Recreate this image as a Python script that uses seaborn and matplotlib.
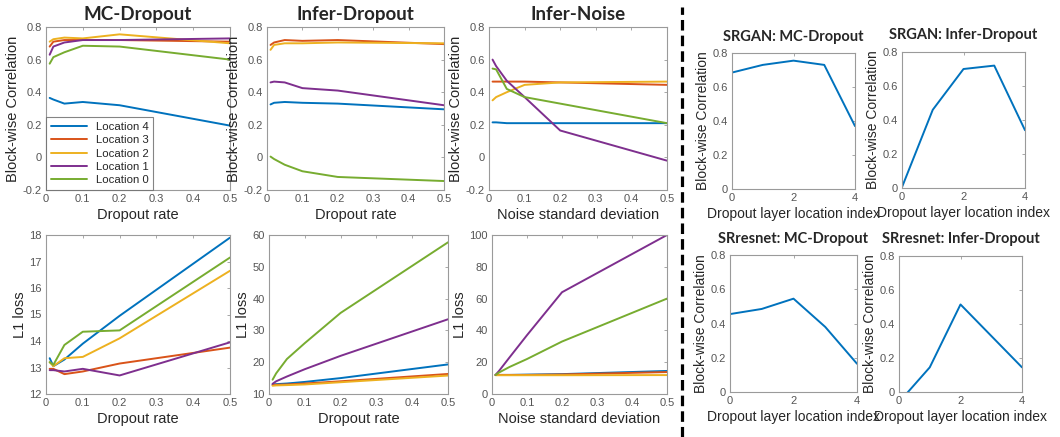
# Block-wise correlation and L1 loss for the dropout / noise experiments
import pandas as pd
import matplotlib.pyplot as plt
import seaborn as sns
from matplotlib.lines import Line2D
from matplotlib.ticker import FuncFormatter

# x values for the left block of plots
rates = [0.01, 0.02, 0.05, 0.1, 0.2, 0.5]
locations = ["Location 4", "Location 3", "Location 2", "Location 1", "Location 0"]

# Block-wise correlation, one list per location (4, 3, 2, 1, 0)
mc_corr = [
    [0.365, 0.355, 0.33, 0.34, 0.32, 0.195],
    [0.68, 0.71, 0.72, 0.72, 0.72, 0.71],
    [0.71, 0.725, 0.735, 0.73, 0.755, 0.70],
    [0.63, 0.68, 0.705, 0.72, 0.72, 0.73],
    [0.575, 0.615, 0.645, 0.685, 0.68, 0.60],
]
infer_corr = [
    [0.325, 0.335, 0.34, 0.335, 0.33, 0.295],
    [0.69, 0.705, 0.72, 0.715, 0.72, 0.695],
    [0.66, 0.69, 0.70, 0.70, 0.705, 0.70],
    [0.46, 0.465, 0.46, 0.425, 0.41, 0.32],
    [0.005, -0.01, -0.045, -0.085, -0.12, -0.145],
]
noise_corr = [
    [0.215, 0.215, 0.21, 0.21, 0.21, 0.21],
    [0.465, 0.465, 0.465, 0.465, 0.46, 0.445],
    [0.35, 0.37, 0.40, 0.445, 0.46, 0.465],
    [0.60, 0.56, 0.47, 0.37, 0.165, -0.02],
    [0.545, 0.54, 0.42, 0.37, 0.33, 0.21],
]

# L1 loss, same ordering
mc_l1 = [
    [13.35, 13.05, 13.3, 13.9, 14.95, 17.9],
    [12.95, 12.95, 12.75, 12.85, 13.15, 13.75],
    [13.2, 13.05, 13.35, 13.4, 14.1, 16.65],
    [12.9, 12.9, 12.85, 12.95, 12.7, 13.95],
    [13.2, 13.1, 13.85, 14.35, 14.4, 17.15],
]
infer_l1 = [
    [13.0, 13.1, 13.3, 13.8, 15.0, 19.3],
    [12.8, 12.9, 13.0, 13.3, 14.0, 16.3],
    [12.6, 12.7, 12.8, 13.0, 13.7, 15.8],
    [13.2, 14.0, 15.5, 17.8, 22.0, 33.5],
    [14.5, 16.5, 21.0, 26.0, 35.5, 57.7],
]
noise_l1 = [
    [12.0, 12.0, 12.0, 12.2, 12.5, 14.5],
    [12.0, 12.0, 12.0, 12.0, 12.3, 13.8],
    [11.8, 11.8, 11.8, 11.8, 11.8, 11.9],
    [12.0, 14.5, 23.0, 37.0, 64.0, 100.0],
    [12.0, 13.5, 17.0, 22.0, 33.0, 60.0],
]

# right block: correlation vs dropout layer location
layer_idx = [0, 1, 2, 3, 4]
srgan_mc = [0.685, 0.73, 0.755, 0.73, 0.37]
srgan_infer = [0.005, 0.46, 0.70, 0.72, 0.34]
srresnet_mc = [0.455, 0.485, 0.545, 0.38, 0.165]
srresnet_infer = [-0.06, 0.145, 0.515, 0.33, 0.145]

matlab_colors = ["#0072BD", "#D95319", "#EDB120", "#7E2F8E", "#77AC30"]

sns.set_style("white")
plt.rcParams['font.family'] = ['Liberation Sans', 'DejaVu Sans']

W, H = 1060, 437
fig = plt.figure(figsize=(W / 100, H / 100), dpi=100)


def make_axes(left, top, right, bottom):
    # axes box given in pixel coordinates of the picture
    return fig.add_axes([left / W, 1 - bottom / H, (right - left) / W, (bottom - top) / H])


def style_axes(ax, xlim, ylim, xticks, yticks, xlabel, ylabel, title, tsize, tpad=5,
               lsize=10.5):
    ax.set_xlim(xlim)
    ax.set_ylim(ylim)
    ax.set_xticks(xticks)
    ax.set_yticks(yticks)
    fmt = FuncFormatter(lambda v, p: "%g" % round(v, 3))
    ax.xaxis.set_major_formatter(fmt)
    ax.yaxis.set_major_formatter(fmt)
    ax.tick_params(direction="in", length=2.5, width=0.6, colors="#999999",
                   labelcolor="#555555", labelsize=8, top=True, right=True, pad=3)
    for sp in ax.spines.values():
        sp.set_color("#9a9a9a")
        sp.set_linewidth(0.8)
    ax.set_xlabel(xlabel, fontsize=lsize, labelpad=3)
    ax.set_ylabel(ylabel, fontsize=lsize, labelpad=2)
    ax.set_title(title, fontsize=tsize, fontweight="bold", family="Lato", pad=tpad)


def loc_plot(ax, values, legend=False):
    rows = []
    for name, ys in zip(locations, values):
        for x, y in zip(rates, ys):
            rows.append({"x": x, "y": y, "loc": name})
    df = pd.DataFrame(rows)
    sns.lineplot(data=df, x="x", y="y", hue="loc", hue_order=locations,
                 palette=matlab_colors, linewidth=1.4, ax=ax, legend=legend)


rate_ticks = [0, 0.1, 0.2, 0.3, 0.4, 0.5]
corr_ticks = [-0.2, 0, 0.2, 0.4, 0.6, 0.8]

# top row: correlation
ax = make_axes(46, 27, 230, 190)
loc_plot(ax, mc_corr, legend=True)
style_axes(ax, (0, 0.5), (-0.2, 0.8), rate_ticks, corr_ticks,
           "Dropout rate", "Block-wise Correlation", "MC-Dropout", 13.5)
leg = ax.legend(loc="lower left", fontsize=8.2, handlelength=3.2, frameon=True,
                fancybox=False, borderaxespad=0, labelspacing=0.3, borderpad=0.4)
leg.get_frame().set_edgecolor("#666666")
leg.get_frame().set_linewidth(0.8)

ax = make_axes(267, 27, 444, 190)
loc_plot(ax, infer_corr)
style_axes(ax, (0, 0.5), (-0.2, 0.8), rate_ticks, corr_ticks,
           "Dropout rate", "Block-wise Correlation", "Infer-Dropout", 13.5)

ax = make_axes(489, 27, 667, 190)
loc_plot(ax, noise_corr)
style_axes(ax, (0, 0.5), (-0.2, 0.8), rate_ticks, corr_ticks,
           "Noise standard deviation", "Block-wise Correlation", "Infer-Noise", 13.5)

# bottom row: L1 loss
ax = make_axes(46, 235, 230, 394)
loc_plot(ax, mc_l1)
style_axes(ax, (0, 0.5), (12, 18), rate_ticks, list(range(12, 19)),
           "Dropout rate", "L1 loss", "", 13)

ax = make_axes(269, 235, 448, 394)
loc_plot(ax, infer_l1)
style_axes(ax, (0, 0.5), (10, 60), rate_ticks, list(range(10, 61, 10)),
           "Dropout rate", "L1 loss", "", 13)

ax = make_axes(492, 235, 667, 394)
loc_plot(ax, noise_l1)
style_axes(ax, (0, 0.5), (0, 100), rate_ticks, list(range(0, 101, 20)),
           "Noise standard deviation", "L1 loss", "", 13)

# right block
right_panels = [
    ((732, 53, 855, 189), srgan_mc, "SRGAN: MC-Dropout"),
    ((902, 52, 1025, 188), srgan_infer, "SRGAN: Infer-Dropout"),
    ((730, 255, 857, 392), srresnet_mc, "SRresnet: MC-Dropout"),
    ((899, 256, 1022, 392), srresnet_infer, "SRresnet: Infer-Dropout"),
]
for box, ys, title in right_panels:
    ax = make_axes(*box)
    sns.lineplot(x=layer_idx, y=ys, color=matlab_colors[0], linewidth=1.4, ax=ax)
    style_axes(ax, (0, 4), (0, 0.8), [0, 2, 4], [0, 0.2, 0.4, 0.6, 0.8],
               "Dropout layer location index", "Block-wise Correlation", title, 10.5,
               tpad=9, lsize=10)

# dashed separator between the two blocks
fig.add_artist(Line2D([682 / W, 682 / W], [0, 0.985], color="black", linewidth=2.3,
                      linestyle=(0, (3.3, 1.6)), transform=fig.transFigure))

plt.savefig("out.png", dpi=100)
